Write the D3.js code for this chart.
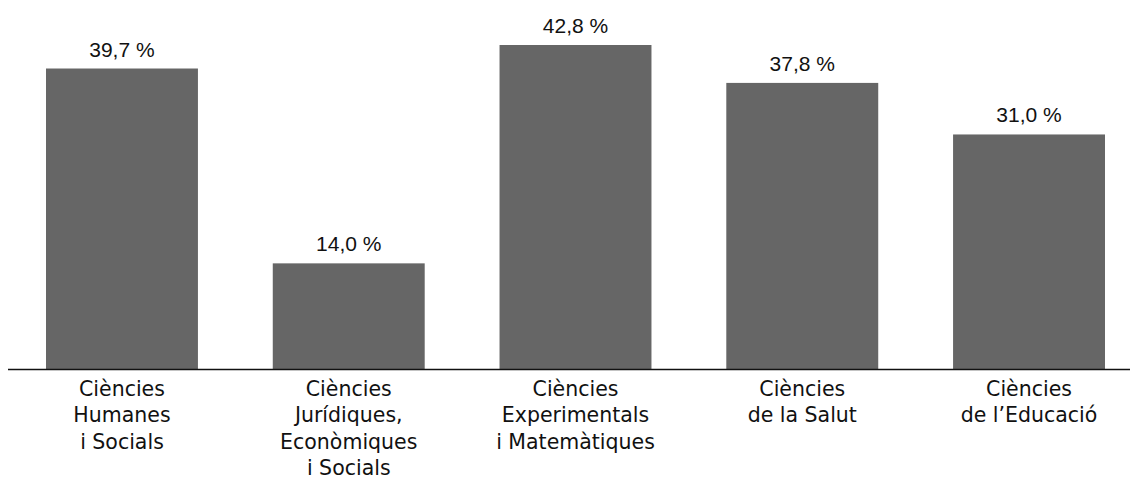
<!DOCTYPE html>
<html lang="ca">
<head>
  <meta charset="UTF-8">
  <title>Ciències</title>
  <script src="https://cdnjs.cloudflare.com/ajax/libs/d3/7.8.5/d3.min.js"></script>
  <style>
    body { margin: 0; background: #fff; }
    svg text { fill: #111; }
    .val { font-family: "Liberation Sans", Arial, sans-serif; font-size: 21px; }
    .cat { font-family: "DejaVu Sans", sans-serif; font-size: 20.5px; }
    .bar { fill: #666666; }
  </style>
</head>
<body>
  <div id="chart"></div>
  <script>
    // categories (one entry per line of the label)
    var categories = [
      ["Ciències", "Humanes", "i Socials"],
      ["Ciències", "Jurídiques,", "Econòmiques", "i Socials"],
      ["Ciències", "Experimentals", "i Matemàtiques"],
      ["Ciències", "de la Salut"],
      ["Ciències", "de l\u2019Educació"]
    ];
    var values = [39.7, 14.0, 42.8, 37.8, 31.0];
    var valueLabels = ["39,7 %", "14,0 %", "42,8 %", "37,8 %", "31,0 %"];

    var W = 1130, H = 480;
    var baseY = 369.5;

    var svg = d3.select("#chart").append("svg")
        .attr("width", W)
        .attr("height", H);

    // bars run from x=46 to x=1105
    var x = d3.scaleBand()
        .domain(d3.range(values.length))
        .range([46, 1105])
        .paddingInner(0.33)
        .paddingOuter(0);

    var y = d3.scaleLinear()
        .domain([0, 42.8])
        .range([baseY, 45]);

    svg.selectAll(".bar")
      .data(values)
      .enter().append("rect")
        .attr("class", "bar")
        .attr("x", function(d, i) { return x(i); })
        .attr("width", x.bandwidth())
        .attr("y", function(d) { return y(d); })
        .attr("height", function(d) { return baseY - y(d); });

    svg.selectAll(".val")
      .data(values)
      .enter().append("text")
        .attr("class", "val")
        .attr("x", function(d, i) { return x(i) + x.bandwidth() / 2; })
        .attr("y", function(d) { return y(d) - 12; })
        .attr("text-anchor", "middle")
        .text(function(d, i) { return valueLabels[i]; });

    // baseline
    svg.append("line")
        .attr("x1", 8)
        .attr("x2", W)
        .attr("y1", baseY)
        .attr("y2", baseY)
        .attr("stroke", "#111")
        .attr("stroke-width", 1.3);

    var lab = svg.selectAll(".cat")
      .data(categories)
      .enter().append("text")
        .attr("class", "cat")
        .attr("text-anchor", "middle")
        .attr("transform", function(d, i) {
          return "translate(" + (x(i) + x.bandwidth() / 2) + "," + (baseY + 26.5) + ")";
        });
    lab.selectAll("tspan")
      .data(function(d) { return d; })
      .enter().append("tspan")
        .attr("x", 0)
        .attr("dy", function(d, j) { return j === 0 ? 0 : 26.4; })
        .text(function(d) { return d; });
  </script>
</body>
</html>
